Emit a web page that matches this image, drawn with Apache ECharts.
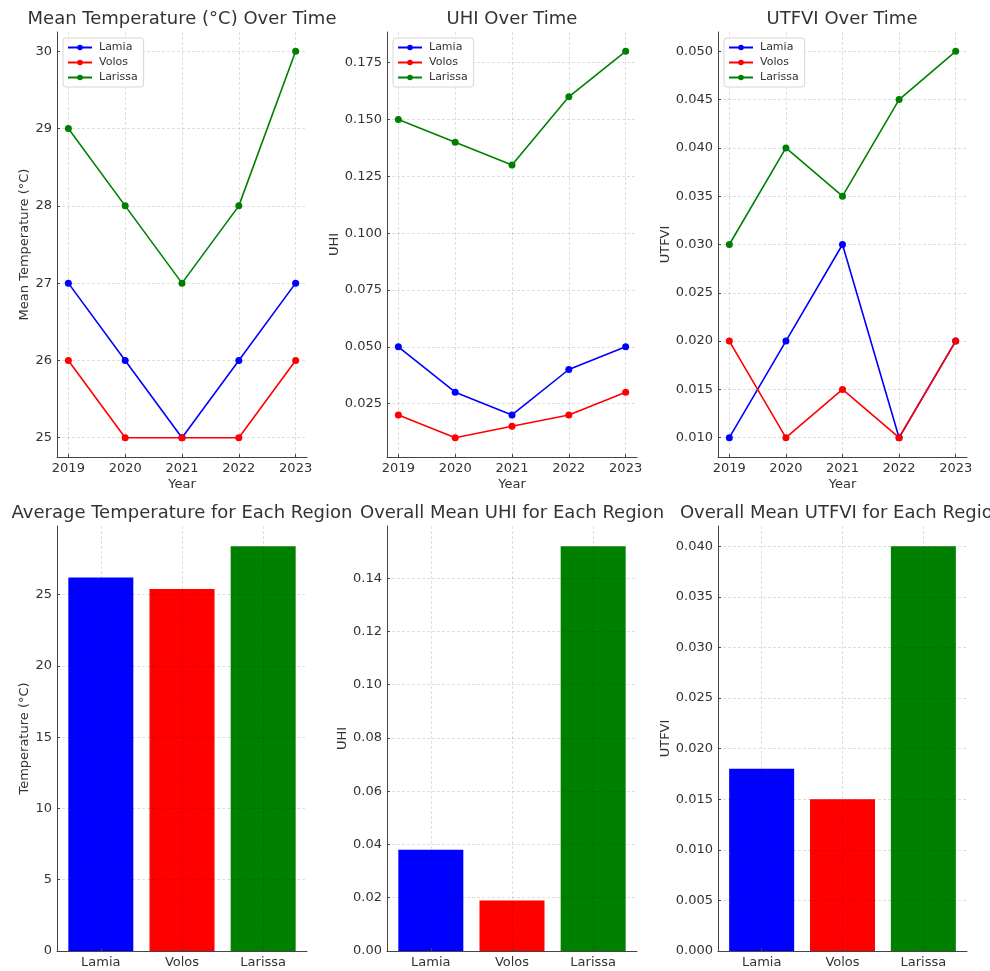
<!DOCTYPE html>
<html>
<head>
<meta charset="utf-8">
<script src="https://cdn.jsdelivr.net/npm/echarts@6/dist/echarts.min.js"></script>
<style>
  html, body { margin: 0; padding: 0; background: #fff; }
  #main { width: 990px; height: 971px; }
</style>
</head>
<body>
<div id="main"></div>
<script>
var years = [2019, 2020, 2021, 2022, 2023];
var regions = ['Lamia', 'Volos', 'Larissa'];
var regionColors = ['#0000ff', '#ff0000', '#008000'];

// yearly values per region
var tempLamia = [27, 26, 25, 26, 27];
var tempVolos = [26, 25, 25, 25, 26];
var tempLarissa = [29, 28, 27, 28, 30];
var uhiLamia = [0.05, 0.03, 0.02, 0.04, 0.05];
var uhiVolos = [0.02, 0.01, 0.015, 0.02, 0.03];
var uhiLarissa = [0.15, 0.14, 0.13, 0.16, 0.18];
var utfviLamia = [0.01, 0.02, 0.03, 0.01, 0.02];
var utfviVolos = [0.02, 0.01, 0.015, 0.01, 0.02];
var utfviLarissa = [0.03, 0.04, 0.035, 0.045, 0.05];

// region averages (bars)
var avgTemp = [26.2, 25.4, 28.4];
var avgUhi = [0.038, 0.019, 0.152];
var avgUtfvi = [0.018, 0.015, 0.040];

// tick labels
var tempTicks = [25, 26, 27, 28, 29, 30];
var uhiTicks = [0.025, 0.05, 0.075, 0.1, 0.125, 0.15, 0.175];
var utfviTicks = [0.01, 0.015, 0.02, 0.025, 0.03, 0.035, 0.04, 0.045, 0.05];
var avgTempTicks = [0, 5, 10, 15, 20, 25];
var avgUhiTicks = [0, 0.02, 0.04, 0.06, 0.08, 0.1, 0.12, 0.14];
var avgUtfviTicks = [0, 0.005, 0.01, 0.015, 0.02, 0.025, 0.03, 0.035, 0.04];

var chart = echarts.init(document.getElementById('main'));
var font = 'DejaVu Sans';
var txt = '#333333';
var gridLine = { show: true, lineStyle: { color: 'rgba(0,0,0,0.16)', width: 0.8, type: [3, 2] } };

var grids = [
    { left: 57, top: 32, width: 250, height: 425 },
    { left: 387, top: 32, width: 250, height: 425 },
    { left: 718, top: 32, width: 249, height: 425 },
    { left: 57, top: 526, width: 250, height: 425 },
    { left: 387, top: 526, width: 250, height: 425 },
    { left: 718, top: 526, width: 249, height: 425 }
];

function pairs(vals){
    return years.map(function(y, i){ return [y, vals[i]]; });
}

function xAxisFor(idx, isBar){
    return {
        type: 'value',
        gridIndex: idx,
        min: isBar ? -0.54 : 2018.8,
        max: isBar ? 2.54 : 2023.2,
        name: isBar ? '' : 'Year',
        nameLocation: 'middle',
        nameGap: 21,
        nameTextStyle: { fontFamily: font, fontSize: 13, color: txt },
        axisLine: { show: true, onZero: false, lineStyle: { color: '#444', width: 1 } },
        axisTick: { show: true, inside: true, length: 3, lineStyle: { color: '#444' }, customValues: isBar ? [0, 1, 2] : years },
        axisLabel: {
            fontFamily: font, fontSize: 13, color: txt, margin: 5,
            customValues: isBar ? [0, 1, 2] : years,
            formatter: function(v){ return isBar ? regions[Math.round(v)] : String(Math.round(v)); }
        },
        splitLine: gridLine,
        z: 3
    };
}

function yAxisFor(idx, name, min, max, ticks, dec, gap){
    return {
        type: 'value',
        gridIndex: idx,
        min: min,
        max: max,
        name: name,
        nameLocation: 'middle',
        nameGap: gap,
        nameTextStyle: { fontFamily: font, fontSize: 13, color: txt },
        axisLine: { show: true, onZero: false, lineStyle: { color: '#444', width: 1 } },
        axisTick: { show: true, inside: true, length: 3, lineStyle: { color: '#444' }, customValues: ticks },
        axisLabel: {
            fontFamily: font, fontSize: 13, color: txt, margin: 5,
            customValues: ticks,
            formatter: function(v){ return v.toFixed(dec); }
        },
        splitLine: gridLine,
        z: 3
    };
}

function lineSeries(idx, name, vals, color){
    return {
        name: name, type: 'line', xAxisIndex: idx, yAxisIndex: idx,
        data: pairs(vals),
        symbol: 'circle', symbolSize: 7,
        lineStyle: { color: color, width: 1.6 },
        itemStyle: { color: color },
        z: 4
    };
}

function barSeries(idx, vals){
    return {
        type: 'bar', xAxisIndex: idx, yAxisIndex: idx,
        barWidth: 65,
        data: vals.map(function(v, i){ return { value: [i, v], itemStyle: { color: regionColors[i] } }; }),
        z: 2
    };
}

function title(text, cx, top){
    return {
        text: text, left: cx, top: top, textAlign: 'center', padding: 0,
        textStyle: { fontFamily: font, fontSize: 18, fontWeight: 'normal', color: txt }
    };
}

function legend(idx){
    return {
        orient: 'vertical',
        left: grids[idx].left + 6, top: 38,
        itemWidth: 24, itemHeight: 7, itemGap: 4,
        padding: [4, 6, 4, 4],
        borderColor: '#d6d6d6', borderWidth: 1, borderRadius: 3,
        backgroundColor: 'rgba(255,255,255,0.85)',
        textStyle: { fontFamily: font, fontSize: 11, color: txt, padding: [0, 0, 0, 2] },
        data: regions,
        z: 10
    };
}

var option = {
    backgroundColor: '#ffffff',
    animation: false,
    title: [
        title('Mean Temperature (°C) Over Time', 182, 10),
        title('UHI Over Time', 512, 10),
        title('UTFVI Over Time', 842, 10),
        title('Average Temperature for Each Region', 182, 504),
        title('Overall Mean UHI for Each Region', 512, 504),
        title('Overall Mean UTFVI for Each Region', 842, 504)
    ],
    grid: grids,
    xAxis: [
        xAxisFor(0, false), xAxisFor(1, false), xAxisFor(2, false),
        xAxisFor(3, true), xAxisFor(4, true), xAxisFor(5, true)
    ],
    yAxis: [
        yAxisFor(0, 'Mean Temperature (°C)', 24.75, 30.25, tempTicks, 0, 26),
        yAxisFor(1, 'UHI', 0.0015, 0.1885, uhiTicks, 3, 46),
        yAxisFor(2, 'UTFVI', 0.008, 0.052, utfviTicks, 3, 46),
        yAxisFor(3, 'Temperature (°C)', 0, 29.82, avgTempTicks, 0, 26),
        yAxisFor(4, 'UHI', 0, 0.1596, avgUhiTicks, 2, 37),
        yAxisFor(5, 'UTFVI', 0, 0.042, avgUtfviTicks, 3, 46)
    ],
    legend: [legend(0), legend(1), legend(2)],
    series: [
        lineSeries(0, 'Lamia', tempLamia, regionColors[0]),
        lineSeries(0, 'Volos', tempVolos, regionColors[1]),
        lineSeries(0, 'Larissa', tempLarissa, regionColors[2]),
        lineSeries(1, 'Lamia', uhiLamia, regionColors[0]),
        lineSeries(1, 'Volos', uhiVolos, regionColors[1]),
        lineSeries(1, 'Larissa', uhiLarissa, regionColors[2]),
        lineSeries(2, 'Lamia', utfviLamia, regionColors[0]),
        lineSeries(2, 'Volos', utfviVolos, regionColors[1]),
        lineSeries(2, 'Larissa', utfviLarissa, regionColors[2]),
        barSeries(3, avgTemp),
        barSeries(4, avgUhi),
        barSeries(5, avgUtfvi)
    ]
};
chart.setOption(option);
</script>
</body>
</html>
